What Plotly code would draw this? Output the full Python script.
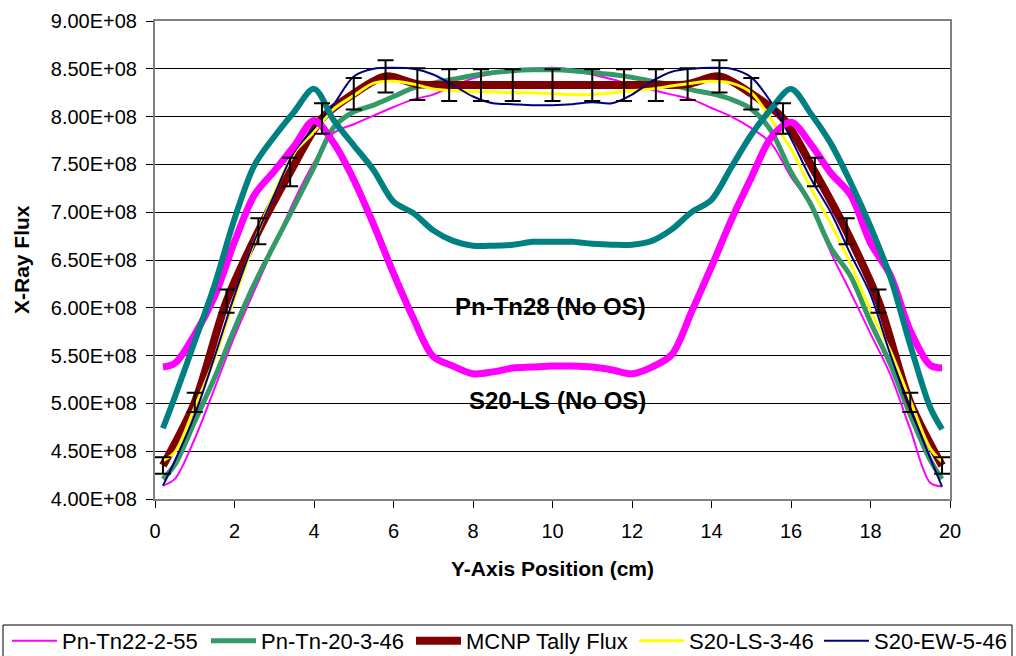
import plotly.graph_objects as go

# Position across the part (cm)
X_PROFILE = [0.2, 0.5, 1.0, 1.5, 2.0, 2.5, 3.0, 3.5, 4.0, 4.5, 5.0, 5.5, 6.0, 6.5,
             7.0, 7.5, 8.0, 8.5, 9.0, 9.5, 10.0, 10.5, 11.0, 11.5, 12.0, 12.5, 13.0,
             13.5, 14.0, 14.5, 15.0, 15.5, 16.0, 16.5, 17.0, 17.5, 18.0, 18.5, 19.0,
             19.5, 19.8]
X_TALLY = [0.2, 1.0, 1.8, 2.6, 3.4, 4.2, 5.0, 5.8, 6.6, 7.4, 8.2, 9.0, 10.0, 11.0,
           11.8, 12.6, 13.4, 14.2, 15.0, 15.8, 16.6, 17.4, 18.2, 19.0, 19.8]

# X-ray flux, in units of 1E+08
PN_TN22_2_55 = [4.14, 4.21, 4.63, 5.16, 5.70, 6.18, 6.65, 7.12, 7.52, 7.83, 7.92, 8.01,
                8.10, 8.18, 8.23, 8.32, 8.40, 8.45, 8.49, 8.50, 8.51, 8.49, 8.44, 8.39,
                8.33, 8.28, 8.23, 8.18, 8.09, 8.00, 7.88, 7.72, 7.37, 7.08, 6.58, 6.16,
                5.73, 5.30, 4.73, 4.17, 4.13]
PN_TN_20_3_46 = [4.21, 4.36, 4.81, 5.27, 5.78, 6.25, 6.66, 7.06, 7.47, 7.89, 8.05, 8.12,
                 8.21, 8.30, 8.35, 8.39, 8.43, 8.46, 8.48, 8.49, 8.49, 8.48, 8.46, 8.44,
                 8.41, 8.37, 8.33, 8.28, 8.24, 8.18, 8.08, 7.85, 7.42, 7.08, 6.63, 6.33,
                 5.85, 5.41, 4.88, 4.41, 4.21]
MCNP_TALLY = [4.35, 5.01, 6.07, 6.80, 7.42, 7.98, 8.24, 8.42, 8.34, 8.33, 8.33, 8.33,
              8.33, 8.33, 8.33, 8.33, 8.34, 8.42, 8.24, 7.98, 7.42, 6.80, 6.07, 5.01, 4.35]
S20_LS_3_46 = [4.40, 4.49, 4.96, 5.47, 6.10, 6.69, 7.20, 7.62, 7.84, 8.08, 8.22, 8.35,
               8.37, 8.34, 8.29, 8.27, 8.26, 8.26, 8.25, 8.25, 8.24, 8.23, 8.23, 8.25,
               8.27, 8.29, 8.32, 8.35, 8.37, 8.35, 8.25, 7.97, 7.66, 7.25, 6.88, 6.46,
               5.97, 5.55, 5.03, 4.53, 4.39]
S20_EW_5_46 = [4.14, 4.40, 4.88, 5.49, 6.13, 6.70, 7.18, 7.63, 7.88, 8.13, 8.42, 8.50,
               8.51, 8.50, 8.44, 8.33, 8.21, 8.14, 8.13, 8.12, 8.12, 8.13, 8.15, 8.14,
               8.23, 8.37, 8.47, 8.50, 8.51, 8.50, 8.41, 8.15, 7.77, 7.35, 7.00, 6.56,
               6.14, 5.51, 4.95, 4.43, 4.13]
S20_LS_NO_OS = [5.38, 5.42, 5.72, 6.12, 6.69, 7.18, 7.43, 7.69, 7.96, 7.72, 7.34, 6.87,
                6.36, 5.89, 5.49, 5.39, 5.31, 5.33, 5.37, 5.38, 5.39, 5.39, 5.38, 5.35,
                5.31, 5.38, 5.51, 5.96, 6.43, 6.92, 7.36, 7.78, 7.94, 7.71, 7.41, 7.18,
                6.68, 6.34, 5.76, 5.40, 5.37]
PN_TN28_NO_OS = [4.74, 5.07, 5.65, 6.24, 6.93, 7.49, 7.79, 8.05, 8.29, 7.96, 7.70, 7.44,
                 7.11, 6.99, 6.81, 6.70, 6.65, 6.65, 6.66, 6.69, 6.69, 6.69, 6.67, 6.66,
                 6.66, 6.70, 6.82, 7.00, 7.13, 7.47, 7.81, 8.08, 8.29, 8.03, 7.72, 7.31,
                 6.85, 6.32, 5.61, 4.96, 4.73]

TALLY_ERROR_PCT = 2
UNIT = 1e8
Y_TICKS = [4.0, 4.5, 5.0, 5.5, 6.0, 6.5, 7.0, 7.5, 8.0, 8.5, 9.0]
X_TICKS = [0, 2, 4, 6, 8, 10, 12, 14, 16, 18, 20]

FONT = "Liberation Sans, Arial, sans-serif"

# Figure geometry (pixels)
W, H = 1016, 656
PLOT_L, PLOT_R, PLOT_T, PLOT_B = 155, 950, 21, 499


def px_to_paper_x(px):
    return (px - PLOT_L) / (PLOT_R - PLOT_L)


def px_to_paper_y(py):
    return (PLOT_B - py) / (PLOT_B - PLOT_T)


def scaled(values):
    return [v * UNIT for v in values]


fig = go.Figure()

# name, x, y, colour, width, legend slot (None = not listed), legend left edge (px)
series = [
    ("Pn-Tn22-2-55", X_PROFILE, PN_TN22_2_55, "#FF00FF", 2, "legend", 7),
    ("Pn-Tn-20-3-46", X_PROFILE, PN_TN_20_3_46, "#339966", 5, "legend2", 206),
    ("MCNP Tally Flux", X_TALLY, MCNP_TALLY, "#800000", 8, "legend3", 411),
    ("S20-LS-3-46", X_PROFILE, S20_LS_3_46, "#FFFF00", 3, "legend4", 634),
    ("S20-EW-5-46", X_PROFILE, S20_EW_5_46, "#000080", 2, "legend5", 819),
    ("S20-LS (No OS)", X_PROFILE, S20_LS_NO_OS, "#FF00FF", 7, None, None),
    ("Pn-Tn28 (No OS)", X_PROFILE, PN_TN28_NO_OS, "#008080", 6, None, None),
]
legend_layout = {}
for name, xs, ys, color, width, slot, left in series:
    fig.add_trace(go.Scatter(
        x=xs, y=scaled(ys), name=name, mode="lines",
        line=dict(color=color, width=width, shape="spline", smoothing=0.9),
        showlegend=slot is not None, legend=slot or "legend",
        hoverinfo="skip",
    ))
    if slot is not None:
        legend_layout[slot] = dict(
            orientation="h", x=px_to_paper_x(left), y=px_to_paper_y(620),
            xanchor="left", yanchor="top", borderwidth=0,
            bgcolor="rgba(0,0,0,0)", itemwidth=45,
            font=dict(family=FONT, size=22, color="#000000"),
        )

# Error bars on the tally points, drawn above all curves
fig.add_trace(go.Scatter(
    x=X_TALLY, y=scaled(MCNP_TALLY), mode="markers",
    marker=dict(size=1, color="rgba(0,0,0,0)"),
    error_y=dict(type="percent", value=TALLY_ERROR_PCT, color="#000000",
                 thickness=2, width=8),
    showlegend=False, hoverinfo="skip",
))

# Frame around the legend row
fig.add_shape(type="rect", xref="paper", yref="paper",
              x0=px_to_paper_x(3), x1=px_to_paper_x(1012),
              y0=px_to_paper_y(625), y1=px_to_paper_y(662),
              line=dict(color="#000000", width=1), fillcolor="rgba(0,0,0,0)")

fig.add_annotation(x=12.4, y=6.01 * UNIT, xref="x", yref="y", xanchor="right",
                   yanchor="middle", text="<b>Pn-Tn28 (No OS)</b>", showarrow=False,
                   font=dict(family=FONT, size=24, color="#000000"))
fig.add_annotation(x=12.4, y=5.03 * UNIT, xref="x", yref="y", xanchor="right",
                   yanchor="middle", text="<b>S20-LS (No OS)</b>", showarrow=False,
                   font=dict(family=FONT, size=24, color="#000000"))

# Axis titles
fig.add_annotation(x=0.5, y=px_to_paper_y(568), xref="paper", yref="paper",
                   xanchor="center", yanchor="middle",
                   text="<b>Y-Axis Position (cm)</b>", showarrow=False,
                   font=dict(family=FONT, size=21, color="#000000"))
fig.add_annotation(x=px_to_paper_x(21), y=0.5, xref="paper", yref="paper",
                   xanchor="center", yanchor="middle", textangle=-90,
                   text="<b>X-Ray Flux</b>", showarrow=False,
                   font=dict(family=FONT, size=21, color="#000000"))

fig.update_xaxes(
    range=[0, 20], tickvals=X_TICKS, ticktext=[str(t) for t in X_TICKS],
    ticks="outside", ticklen=7, tickwidth=1, tickcolor="#000000",
    ticklabelstandoff=6,
    showline=True, linecolor="#808080", linewidth=2, mirror=True,
    showgrid=False, zeroline=False,
    tickfont=dict(family=FONT, size=20, color="#000000"),
)
fig.update_yaxes(
    range=[4.0 * UNIT, 9.0 * UNIT], tickvals=scaled(Y_TICKS),
    ticktext=[f"{t * UNIT:.2E}" for t in Y_TICKS],
    ticks="outside", ticklen=7, tickwidth=1, tickcolor="#000000",
    ticklabelstandoff=5,
    showline=True, linecolor="#808080", linewidth=2, mirror=True,
    showgrid=True, gridcolor="#000000", gridwidth=1, zeroline=False,
    tickfont=dict(family=FONT, size=20, color="#000000"),
)

fig.update_layout(
    width=W, height=H,
    margin=dict(l=PLOT_L, r=W - PLOT_R, t=PLOT_T, b=H - PLOT_B, autoexpand=False),
    paper_bgcolor="#FFFFFF", plot_bgcolor="#FFFFFF",
    font=dict(family=FONT, color="#000000"),
    **legend_layout,
)

fig.write_html("out.html")
